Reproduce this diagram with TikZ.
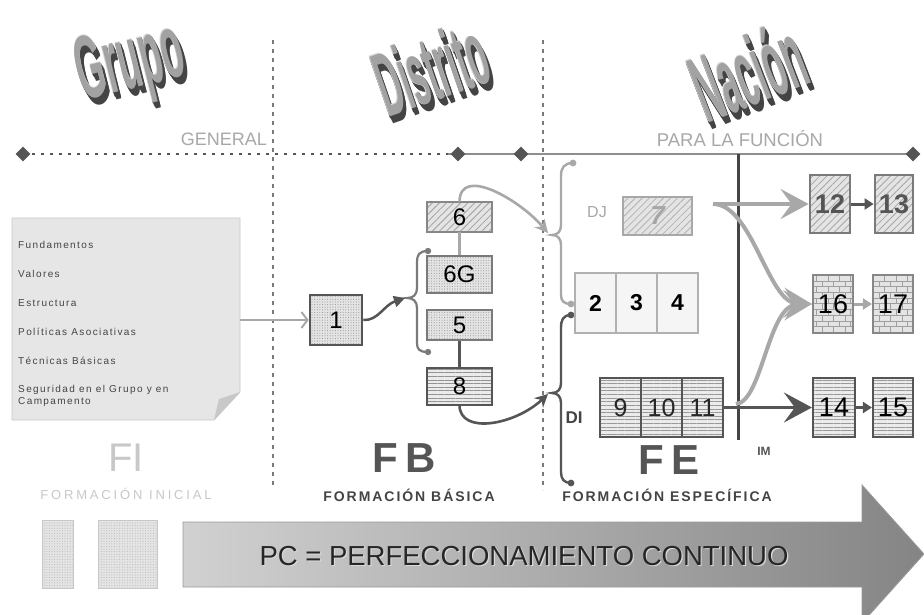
\documentclass[tikz,border=0pt]{standalone}
\usepackage{fontspec}
\setmainfont{Liberation Sans}
\newfontfamily\notefont[LetterSpace=14]{Liberation Sans}
\newfontfamily\capsfont[LetterSpace=14]{Liberation Sans}
\newfontfamily\inifont[LetterSpace=22]{Liberation Sans}
\usetikzlibrary{shapes.geometric,arrows.meta,patterns,patterns.meta}
\definecolor{dk}{HTML}{555555}
\definecolor{md}{HTML}{7A7A7A}
\definecolor{lt}{HTML}{A8A8A8}
\definecolor{ltr}{HTML}{C8C8C8}
\definecolor{tdark}{HTML}{444444}
\definecolor{tlight}{HTML}{D8D8D8}
\definecolor{tface}{HTML}{A2A2A2}
\definecolor{notebg}{HTML}{E6E6E6}
\definecolor{boxbg}{HTML}{E4E4E4}
\newcommand{\tdtitle}[6]{%
  \foreach \k in {8,7,...,1}{%
    \node[titleface, text=tdark, rotate=#4, xscale=#5, yscale=#6] (#1sh\k) at ([shift={(0.45*\k,0.85*\k)}]#2) {#3};
  }
  \node[titleface, text=tlight, rotate=#4, xscale=#5, yscale=#6] (#1hl) at ([shift={(-0.7,-0.7)}]#2) {#3};
  \node[titleface, text=tface, rotate=#4, xscale=#5, yscale=#6] (#1) at (#2) {#3};
}
\begin{document}
\begin{tikzpicture}[x=1pt,y=-1pt,
  titleface/.style={font=\fontsize{30}{30}\selectfont\bfseries, inner sep=0pt},
  dia/.style={diamond, fill=dk, minimum width=15pt, minimum height=15pt, inner sep=0pt},
  vdash/.style={draw=md, line width=1.2pt, dash pattern=on 4pt off 5pt},
  box/.style={draw, line width=2.2pt, inner sep=0pt, text=black, font=\fontsize{24}{24}\selectfont},
  hatchf/.style={preaction={fill=boxbg}, pattern={Lines[angle=45,distance=5pt,line width=0.8pt]}, pattern color=#1},
  dotf/.style={preaction={fill=boxbg}, pattern={Dots[distance=2.6pt,radius=0.55pt]}, pattern color=#1},
  hlinef/.style={preaction={fill=white!92!black}, pattern={Lines[angle=0,distance=3.6pt,line width=0.6pt]}, pattern color=#1},
  brickf/.style={preaction={fill=boxbg}, pattern=bricks, pattern color=#1},
  bigl/.style={draw=lt, line width=4pt, -{Stealth[length=28pt,width=30pt,inset=11pt]}},
  bigd/.style={draw=dk, line width=3.5pt, -{Stealth[length=28pt,width=30pt,inset=11pt]}},
  lbl/.style={inner sep=0pt}
]
\useasboundingbox[fill=white] (0,0) rectangle (924,614);

% ---------- titles
\tdtitle{grupo}{131,66}{Grupo}{14}{1.2}{3.0}
\tdtitle{distrito}{431,68}{Distrito}{19}{1.08}{3.05}
\tdtitle{nacion}{748,71}{Nación}{21}{1.14}{3.15}

\node[lbl, anchor=east, text=lt, font=\fontsize{18}{18}\selectfont] (general) at (267,139) {GENERAL};
\node[lbl, text=lt, font=\fontsize{18.5}{18}\selectfont] (parala) at (740,139) {PARA LA FUNCIÓN};

% ---------- vertical separators
\coordinate (v1t) at (273,40); \coordinate (v1b) at (273,488);
\coordinate (v2t) at (543,40); \coordinate (v2b) at (543,490);
\draw[vdash] (v1t) -- (v1b);
\draw[vdash] (v2t) -- (v2b);

% ---------- timeline
\coordinate (p1) at (23,154); \coordinate (p2) at (458,154);
\coordinate (p3) at (521,154); \coordinate (p4) at (913,154);
\coordinate (dotend) at (448,154);
\draw[dk, line width=2.4pt, dash pattern=on 2.5pt off 6.5pt] (p1) -- (dotend);
\draw[md!85, line width=2.6pt] (dotend) -- (p4);
\node[dia] (d1) at (p1) {};
\node[dia] (d2) at (p2) {};
\node[dia] (d3) at (p3) {};
\node[dia] (d4) at (p4) {};

% ---------- IM line
\coordinate (imt) at (738,154); \coordinate (imb) at (738,440);
\draw[tdark, line width=3pt] (imt) -- (imb);
\node[lbl, text=dk, font=\fontsize{12}{12}\selectfont\bfseries] (im) at (764,451) {IM};

% ---------- note (FI)
\path[fill=notebg, draw=ltr, line width=0.8pt] (12,218) -- (240,218) -- (240,392) -- (214,420) -- (12,420) -- cycle;
\fill[ltr] (214,420) -- (240,392) -- (219,399) -- cycle;
\begin{scope}[every node/.style={lbl, anchor=west, text=tdark, font=\notefont\fontsize{10}{12.5}\selectfont}]
\node (n1) at (18,245) {Fundamentos};
\node (n2) at (18,274) {Valores};
\node (n3) at (18,303) {Estructura};
\node (n4) at (18,332) {Políticas Asociativas};
\node (n5) at (18,361) {Técnicas Básicas};
\node[align=left] (n6) at (18,396) {Seguridad en el Grupo y en\\Campamento};
\end{scope}
\coordinate (notee) at (240,320);

% ---------- FB boxes
\node[box, draw=dk, line width=2.6pt, dotf=gray!80, minimum width=52pt, minimum height=50pt] (b1) at (336,320) {1};
\node[box, draw=md!90, hatchf=gray!75, minimum width=65pt, minimum height=30pt] (b6) at (459.5,217) {6};
\node[box, draw=md, dotf=gray!80, minimum width=65pt, minimum height=37pt] (b6G) at (459.5,274.5) {6G};
\node[box, draw=md, dotf=gray!80, minimum width=65pt, minimum height=30pt] (b5) at (459.5,325) {5};
\node[box, draw=dk, hlinef=gray!85, minimum width=65pt, minimum height=37pt] (b8) at (459.5,386.5) {8};
\draw[lt, line width=2.2pt] (b6) -- (b6G);
\draw[dk, line width=2.6pt] (b5) -- (b8);

\draw[lt, line width=2pt, -{Straight Barb[length=6pt,width=16pt]}] (notee) -- (b1.west);

% left brace
\coordinate (lb1) at (428,251); \coordinate (lb2) at (428,352); \coordinate (lbtip) at (405,298);
\draw[md, line width=2.2pt] (lb1) .. controls (419,251) and (417,255) .. (417,262) -- (417,288)
   .. controls (417,295) and (413,298) .. (407,298) .. controls (413,298) and (417,301) .. (417,308)
   -- (417,343) .. controls (417,349) and (419,352) .. (lb2);
\fill[md] (lb1) circle (3.2); \fill[md] (lb2) circle (3.2);
\draw[dk, line width=2.5pt, -{Triangle[length=11pt,width=11pt]}] (b1.east) .. controls (378,321) and (384,305) .. (lbtip);

% ---------- FE braces
\coordinate (jb1) at (573,163); \coordinate (jb2) at (571,304); \coordinate (jtip) at (548,233);
\draw[lt, line width=2.4pt] (jb1) .. controls (564,163) and (561,168) .. (561,176) -- (561,225)
   .. controls (561,231) and (558,235) .. (552,235) .. controls (558,235) and (561,239) .. (561,245)
   -- (561,295) .. controls (561,301) and (564,304) .. (jb2);
\fill[lt] (jb1) circle (3.4); \fill[lt] (jb2) circle (3.4);

\coordinate (ib1) at (571,315); \coordinate (ib2) at (571,483); \coordinate (itip) at (548,394);
\draw[dk, line width=2.4pt] (ib1) .. controls (563,315) and (561,320) .. (561,328) -- (561,383)
   .. controls (561,389) and (558,393) .. (552,393) .. controls (558,393) and (561,397) .. (561,403)
   -- (561,472) .. controls (561,479) and (564,483) .. (ib2);
\fill[dk] (ib1) circle (3.4); \fill[dk] (ib2) circle (3.4);

\draw[lt, line width=2.6pt, -{Stealth[length=13pt,width=13pt]}] (b6.north) .. controls (460,165) and (520,200) .. (jtip);
\draw[dk, line width=2.6pt, -{Stealth[length=13pt,width=13pt]}] (b8.south) .. controls (460,435) and (515,425) .. (itip);

% ---------- FE content
\node[lbl, text=lt, font=\fontsize{16}{16}\selectfont] (dj) at (597,212) {DJ};
\node[lbl, text=tdark, font=\fontsize{17}{17}\selectfont\bfseries] (di) at (574,418) {DI};
\node[box, draw=lt, line width=2.4pt, hatchf=gray!60, minimum width=69pt, minimum height=38pt, text=gray!70, font=\fontsize{26}{26}\selectfont\bfseries\itshape] (b7) at (657.5,216) {7};

\begin{scope}[every node/.style={box, draw=lt!90, line width=2pt, fill=white!96!black, minimum width=41pt, minimum height=60pt, font=\fontsize{23}{23}\selectfont\bfseries}]
\node (c2) at (595.5,303) {2};
\node (c3) at (636.5,303) {3};
\node (c4) at (677.5,303) {4};
\end{scope}
\begin{scope}[every node/.style={box, draw=dk, hlinef=gray!80, minimum width=41pt, minimum height=59pt, text=black!85, font=\fontsize{25}{25}\selectfont}]
\node (c9) at (620.5,407.5) {9};
\node (c10) at (661.5,407.5) {10};
\node (c11) at (702.5,407.5) {11};
\end{scope}

% ---------- right column
\node[box, draw=md, line width=2.8pt, hatchf=gray!70, minimum width=40pt, minimum height=58pt, text=dk, font=\fontsize{27}{27}\selectfont\bfseries] (b12) at (830,204) {12};
\node[box, draw=md, line width=2.8pt, hatchf=gray!70, minimum width=38pt, minimum height=58pt, text=dk, font=\fontsize{27}{27}\selectfont\bfseries] (b13) at (894,204) {13};
\node[box, draw=md!90, brickf=gray!75, minimum width=40pt, minimum height=58pt, font=\fontsize{27}{27}\selectfont] (b16) at (833,304) {16};
\node[box, draw=md!90, brickf=gray!75, minimum width=40pt, minimum height=58pt, font=\fontsize{27}{27}\selectfont] (b17) at (893,304) {17};
\node[box, draw=dk, hlinef=gray!80, minimum width=42pt, minimum height=59pt, font=\fontsize{27}{27}\selectfont] (b14) at (834,407.5) {14};
\node[box, draw=dk, hlinef=gray!80, minimum width=40pt, minimum height=59pt, font=\fontsize{27}{27}\selectfont] (b15) at (893,407.5) {15};

\draw[dk, line width=3pt, -{Triangle[length=9pt,width=11pt]}] (b12) -- (b13);
\draw[lt, line width=3pt, -{Triangle[length=9pt,width=11pt]}] (b16) -- (b17);
\draw[dk, line width=3pt, -{Triangle[length=9pt,width=11pt]}] (b14) -- (b15);

\coordinate (s7) at (713,204);
\coordinate (s11) at (736,404);
\draw[bigl] (s7) .. controls (752,204) and (768,302) .. (b16.west);
\draw[bigl] (s11) .. controls (762,402) and (768,306) .. (b16.west);
\draw[bigl] (s7) -- (b12.west);
\draw[bigd] (c11.east) -- (b14.west);

% ---------- bottom labels
\node[lbl, text=ltr, font=\fontsize{40}{40}\selectfont] (fi) at (126,458) {FI};
\node[lbl, text=ltr, font=\inifont\fontsize{13}{13}\selectfont] (fini) at (126,494) {FORMACIÓN INICIAL};
\node[lbl, text=dk, font=\fontsize{42}{42}\selectfont\bfseries] (fb) at (404,458) {F\hspace{7pt}B};
\node[lbl, text=tdark, font=\capsfont\fontsize{14}{14}\selectfont\bfseries] (fbas) at (409,495) {FORMACIÓN BÁSICA};
\node[lbl, text=dk, font=\fontsize{42}{42}\selectfont\bfseries] (fe) at (669,460) {F\hspace{7pt}E};
\node[lbl, text=tdark, font=\capsfont\fontsize{14}{14}\selectfont\bfseries] (fesp) at (667,495) {FORMACIÓN ESPECÍFICA};

% ---------- PC arrow
\node[draw=ltr, line width=1pt, dotf=gray!55, minimum width=31pt, minimum height=68pt, inner sep=0pt] (r1) at (57.5,554) {};
\node[draw=ltr, line width=1pt, dotf=gray!55, minimum width=59pt, minimum height=68pt, inner sep=0pt] (r2) at (127.5,554) {};
\shade[left color=white!82!black, right color=white!52!black] (183,522) -- (862,522) -- (862,485) -- (924,554) -- (862,623) -- (862,587) -- (183,587) -- cycle;
\draw[white!60!black, line width=0.8pt] (183,522) -- (862,522) -- (862,485) -- (924,554) -- (862,623) -- (862,587) -- (183,587) -- cycle;
\node[lbl, text=white!85!black, font=\fontsize{27.5}{27.5}\selectfont] (pcsh) at (525.2,557.2) {PC = PERFECCIONAMIENTO CONTINUO};
\node[lbl, text=black!85, font=\fontsize{27.5}{27.5}\selectfont] (pc) at (524,556) {PC = PERFECCIONAMIENTO CONTINUO};
\end{tikzpicture}
\end{document}
